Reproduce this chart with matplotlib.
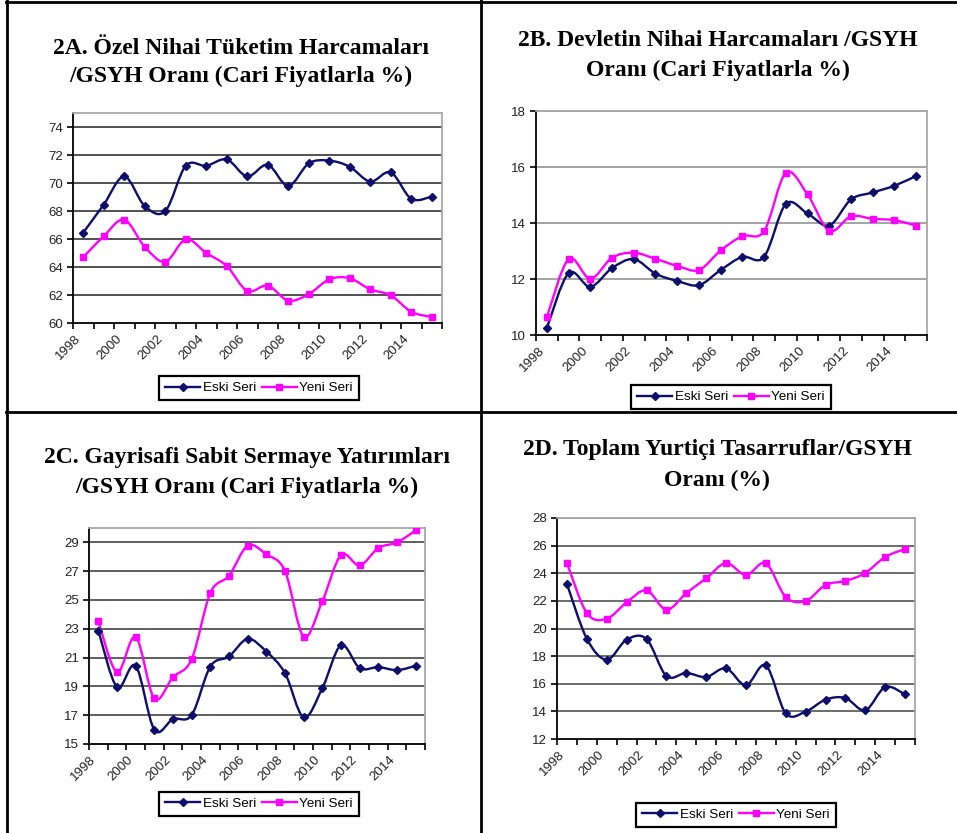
import numpy as np
import matplotlib.pyplot as plt
from matplotlib.path import Path
from matplotlib.patches import PathPatch
from matplotlib.lines import Line2D

W, H = 957, 833
years = list(range(1998, 2016))

# 2A - Ozel nihai tuketim / GSYH
eski_2a = [66.45, 68.46, 70.47, 68.35, 67.99, 71.23, 71.23, 71.68, 70.47,
           71.30, 69.79, 71.40, 71.60, 71.16, 70.10, 70.76, 68.87, 69.03]
yeni_2a = [64.70, 66.20, 67.38, 65.44, 64.37, 65.98, 65.00, 64.07, 62.29,
           62.67, 61.60, 62.06, 63.12, 63.20, 62.40, 61.98, 60.80, 60.43]

# 2B - Devlet nihai harcamalari / GSYH
eski_2b = [10.25, 12.21, 11.72, 12.39, 12.71, 12.19, 11.93, 11.78, 12.32,
           12.79, 12.79, 14.68, 14.34, 13.91, 14.84, 15.09, 15.33, 15.68]
yeni_2b = [10.64, 12.71, 12.01, 12.76, 12.94, 12.72, 12.47, 12.32, 13.02,
           13.53, 13.71, 15.79, 15.02, 13.72, 14.24, 14.15, 14.10, 13.91]

# 2C - Gayrisafi sabit sermaye yatirimlari / GSYH
eski_2c = [22.88, 18.95, 20.43, 15.99, 16.73, 17.01, 20.38, 21.08, 22.30,
           21.42, 19.92, 16.85, 18.88, 21.86, 20.27, 20.34, 20.13, 20.43]
yeni_2c = [23.52, 19.99, 22.44, 18.16, 19.64, 20.89, 25.49, 26.69, 28.77,
           28.17, 27.01, 22.46, 24.91, 28.12, 27.40, 28.61, 29.00, 29.83]

# 2D - Toplam yurtici tasarruflar / GSYH
eski_2d = [23.22, 19.26, 17.74, 19.19, 19.24, 16.56, 16.78, 16.49, 17.12,
           15.89, 17.33, 13.86, 13.98, 14.85, 14.97, 14.08, 15.76, 15.23]
yeni_2d = [24.74, 21.12, 20.71, 21.89, 22.76, 21.36, 22.56, 23.63, 24.74,
           23.87, 24.72, 22.28, 21.99, 23.15, 23.44, 24.02, 25.18, 25.75]

labels = ['Eski Seri', 'Yeni Seri']
ESKI_C = '#0d0d6b'
YENI_C = '#ff00ff'

plt.rcParams['font.family'] = ['Liberation Sans', 'DejaVu Sans']
fig = plt.figure(figsize=(W / 100, H / 100), dpi=100)


# Excel-style smoothed line as a bezier path through the data points
def smooth_path(xs, ys):
    pts = np.column_stack([xs, ys])
    n = len(pts)
    verts = [pts[0]]
    codes = [Path.MOVETO]
    for i in range(n - 1):
        p0 = pts[i - 1] if i > 0 else pts[i]
        p1, p2 = pts[i], pts[i + 1]
        p3 = pts[i + 2] if i + 2 < n else pts[i + 1]
        verts += [p1 + (p2 - p0) / 6, p2 - (p3 - p1) / 6, p2]
        codes += [Path.CURVE4] * 3
    return Path(verts, codes)


def panel(box, ylim, yticks, eski, yeni, grid_color, title, title_x, title_ys, leg_c):
    l, t, r, b = box
    ax = fig.add_axes([l / W, 1 - b / H, (r - l) / W, (b - t) / H])
    x = np.arange(len(years)) + 0.5
    for vals, color, marker, ms in [(eski, ESKI_C, 'D', 4.4), (yeni, YENI_C, 's', 4.2)]:
        ax.add_patch(PathPatch(smooth_path(x, vals), fill=False, edgecolor=color,
                               lw=1.7, zorder=3))
        ax.plot(x, vals, ls='none', marker=marker, color=color, ms=ms, zorder=4)
    ax.set_xlim(0, len(years))
    ax.set_ylim(*ylim)
    ax.set_yticks(yticks)
    for yv in yticks[1:]:
        ax.axhline(yv, color=grid_color, lw=1.1, zorder=1)
    ax.set_xticks(x[::2])
    ax.set_xticklabels([str(y) for y in years[::2]], rotation=45, ha='right')
    ax.set_xticks(np.arange(len(years) + 1), minor=True)
    ax.tick_params(axis='x', which='major', length=0, pad=7, labelsize=9.5, labelcolor='#222222')
    ax.tick_params(axis='x', which='minor', length=4, width=1.2, direction='out')
    ax.tick_params(axis='y', length=4, width=1.2, pad=3, labelsize=9.5, labelcolor='#222222')
    for s in ['left', 'bottom']:
        ax.spines[s].set_color('black')
        ax.spines[s].set_linewidth(1.3)
    for s in ['top', 'right']:
        ax.spines[s].set_color('#a8a8a8')
        ax.spines[s].set_linewidth(1.3)

    handles = [Line2D([], [], color=ESKI_C, lw=1.7, marker='D', ms=4.4),
               Line2D([], [], color=YENI_C, lw=1.7, marker='s', ms=4.2)]
    leg = ax.legend(handles, labels, loc='center', ncol=2,
                    bbox_to_anchor=(leg_c[0] / W, 1 - leg_c[1] / H),
                    bbox_transform=fig.transFigure, fancybox=False, edgecolor='black',
                    framealpha=1, fontsize=9.7, handlelength=2.6, handletextpad=0.2,
                    columnspacing=0.4, borderpad=0.45, borderaxespad=0)
    leg.get_frame().set_linewidth(1.6)

    for line, ty in zip(title, title_ys):
        fig.text(title_x / W, 1 - ty / H, line, ha='center', va='center',
                 fontsize=17, fontweight='bold', family='Liberation Serif')
    return ax


panel((73, 113, 442, 323), (60, 75), np.arange(60, 75, 2), eski_2a, yeni_2a, '#222222',
      ['2A. Özel Nihai Tüketim Harcamaları', '/GSYH Oranı (Cari Fiyatlarla %)'],
      241, [48, 76], (259, 388))
panel((536, 111, 927, 335), (10, 18), np.arange(10, 19, 2), eski_2b, yeni_2b, '#8c8c8c',
      ['2B. Devletin Nihai Harcamaları /GSYH', 'Oranı (Cari Fiyatlarla %)'],
      718, [40, 70], (731, 397))
panel((89, 528, 425, 744), (15, 30), np.arange(15, 30, 2), eski_2c, yeni_2c, '#333333',
      ['2C. Gayrisafi Sabit Sermaye Yatırımları', '/GSYH Oranı (Cari Fiyatlarla %)'],
      247, [457, 487], (259, 804))
panel((557, 518, 915, 739), (12, 28), np.arange(12, 29, 2), eski_2d, yeni_2d, '#444444',
      ['2D. Toplam Yurtiçi Tasarruflar/GSYH', 'Oranı (%)'],
      717, [450, 480], (736, 815))

# table borders
for (x0, y0, x1, y1) in [(6, 2, 957, 2), (7, 0, 7, 833), (481, 0, 481, 833), (6, 412, 957, 412)]:
    fig.add_artist(Line2D([x0 / W, x1 / W], [1 - y0 / H, 1 - y1 / H],
                          transform=fig.transFigure, color='black', lw=2))

fig.savefig('out.png', dpi=100)
